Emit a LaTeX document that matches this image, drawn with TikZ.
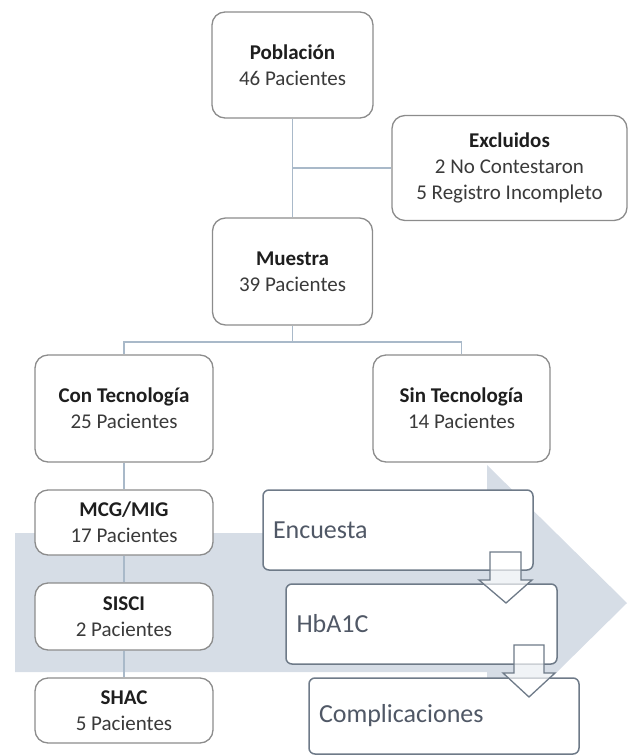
\documentclass[tikz,border=0pt]{standalone}
\usepackage{fontspec}
\setmainfont{Carlito}
\definecolor{bgarrow}{HTML}{D6DDE6}
\definecolor{linec}{HTML}{A9B9C9}
\definecolor{boxline}{HTML}{8C8C8C}
\definecolor{procline}{HTML}{6E7A88}
\definecolor{proctext}{HTML}{505866}
\definecolor{headc}{HTML}{1E1E1E}
\definecolor{numc}{HTML}{3A3A3A}
\begin{document}
\begin{tikzpicture}[x=1pt,y=-1pt,
  orgbox/.style={draw=boxline, line width=1.3pt, fill=white, rounded corners=13pt,
    align=center, font=\fontsize{21}{26}\selectfont, text=numc, inner sep=0pt},
  procbox/.style={draw=procline, line width=1.5pt, fill=white, rounded corners=6pt,
    minimum width=270pt, minimum height=80pt, text width=250pt, inner xsep=10pt,
    align=left, font=\fontsize{26}{30}\selectfont, text=proctext},
  conn/.style={draw=linec, line width=1.5pt},
  downarrow/.style={draw=procline, line width=1.3pt, fill=white, fill opacity=0.65, line join=miter}
]
\useasboundingbox (0,0) rectangle (629,756);
% background arrow
\fill[bgarrow] (15,533) -- (487,533) -- (487,465) -- (627,603) -- (487,741) -- (487,672) -- (15,672) -- cycle;

% org nodes
\node[orgbox, minimum width=161pt, minimum height=106pt] (pob) at (292.5,65) {\textbf{\color{headc}Población}\\46 Pacientes};
\node[orgbox, minimum width=235pt, minimum height=105pt] (exc) at (509.5,168) {\textbf{\color{headc}Excluidos}\\2 No Contestaron\\5 Registro Incompleto};
\node[orgbox, minimum width=160pt, minimum height=107pt] (mue) at (292.5,271.5) {\textbf{\color{headc}Muestra}\\39 Pacientes};
\node[orgbox, minimum width=178pt, minimum height=107pt] (con) at (124,408.5) {\textbf{\color{headc}Con Tecnología}\\25 Pacientes};
\node[orgbox, minimum width=177pt, minimum height=107pt] (sin) at (461.5,408.5) {\textbf{\color{headc}Sin Tecnología}\\14 Pacientes};
\node[orgbox, minimum width=178pt, minimum height=65pt] (mcg) at (124,522.5) {\textbf{\color{headc}MCG/MIG}\\17 Pacientes};
\node[orgbox, minimum width=178pt, minimum height=67pt] (sis) at (124,616.5) {\textbf{\color{headc}SISCI}\\2 Pacientes};
\node[orgbox, minimum width=178pt, minimum height=65pt] (shac) at (124,710.5) {\textbf{\color{headc}SHAC}\\5 Pacientes};

% connectors
\coordinate (split) at (292.5,342);
\draw[conn] (pob.south) -- (mue.north);
\draw[conn] (exc.west) -- (exc.west -| pob.south);
\draw[conn] (mue.south) -- (split) -| (con.north);
\draw[conn] (split) -| (sin.north);
\draw[conn] (con.south) -- (mcg.north);
\draw[conn] (mcg.south) -- (sis.north);
\draw[conn] (sis.south) -- (shac.north);

% process boxes
\node[procbox] (enc) at (398,530) {Encuesta};
\node[procbox, minimum width=271pt] (hba) at (421.5,624) {HbA1C};
\node[procbox, minimum height=76pt] (com) at (444,716) {Complicaciones};

% block arrows
\draw[downarrow] (490,552) -- (521,552) -- (521,580) -- (532,580) -- (506,603) -- (479,580) -- (490,580) -- cycle;
\draw[downarrow] (514,645) -- (544,645) -- (544,673) -- (555,673) -- (529,697) -- (503,673) -- (514,673) -- cycle;
\end{tikzpicture}
\end{document}
